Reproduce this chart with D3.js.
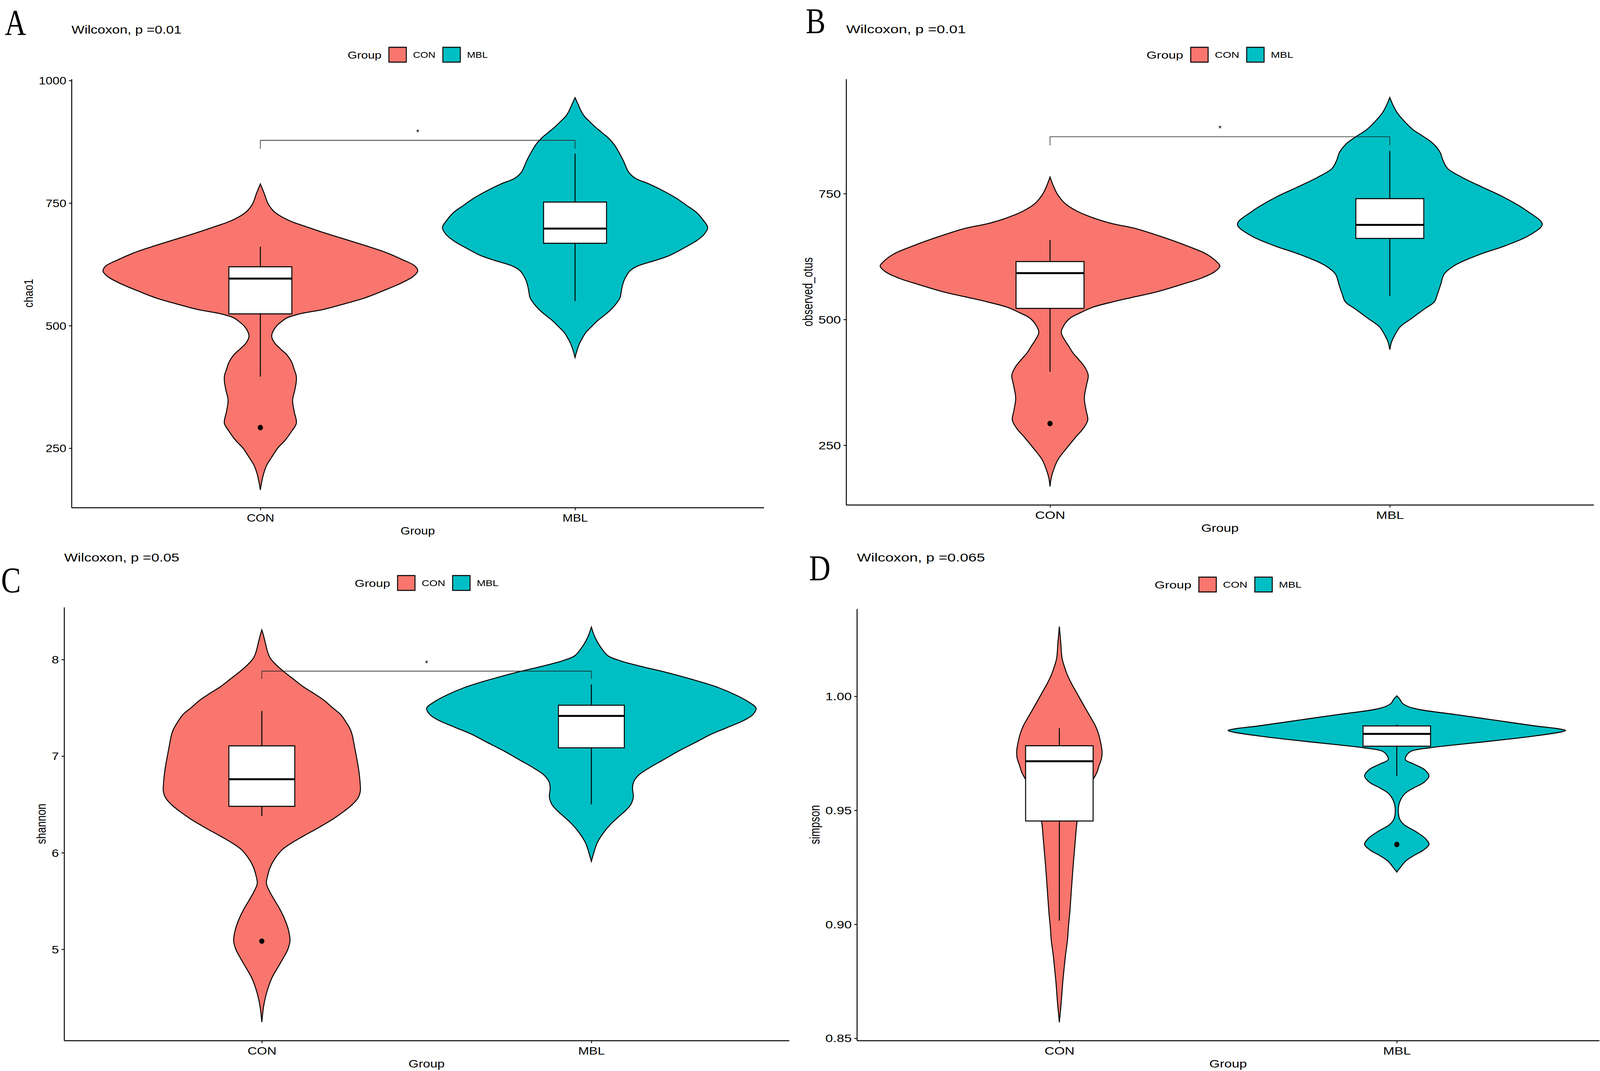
<!DOCTYPE html>
<html>
<head>
<meta charset="utf-8">
<script src="https://cdn.jsdelivr.net/npm/d3@7"></script>
<style>
  html, body { margin: 0; padding: 0; background: #fff; overflow: hidden; }
  svg { display: block; }
</style>
</head>
<body>
<div id="chart-area"></div>
<script>
'use strict';

// ---- data ----
const groups = ['CON', 'MBL'];
const panelTags = ['A', 'B', 'C', 'D'];
const yTitles = ['chao1', 'observed_otus', 'shannon', 'simpson'];
const testLabels = ['Wilcoxon, p =0.01', 'Wilcoxon, p =0.01', 'Wilcoxon, p =0.05', 'Wilcoxon, p =0.065'];

const yTicks = [[250, 500, 750, 1000], [250, 500, 750], [5, 6, 7, 8], [0.85, 0.90, 0.95, 1.00]];
const yDomains = [[128.9, 1003.2], [131.6, 977.9], [4.055, 8.542], [0.849, 1.0384]];

// box plot stats, [CON, MBL] per panel
const q1 = [[524, 668], [522, 661], [6.48, 7.086], [0.9453, 0.9781]];
const medians = [[596, 698], [592, 688], [6.761, 7.416], [0.9715, 0.9835]];
const q3 = [[620, 752], [615, 740], [7.106, 7.527], [0.9783, 0.987]];
const whiskerLo = [[396, 550], [396, 547], [6.379, 6.501], [0.9016, 0.9651]];
const whiskerHi = [[661, 851], [658, 835], [7.468, 7.743], [0.986, 0.9876]];
const outliers = [[[292], []], [[293], []], [[5.084], []], [[], [0.935]]];

// significance brackets
const signif = ['*', '*', '*', null];
const bracketY = [878, 863, 7.88, null];
const bracketTip = [861, 846, 7.80, null];
const starY = [898, 883, 7.98, null];

// violin outlines: [value, half width relative to widest violin of the panel]
const violinA = [
  [[789,0],[771,0.023],[748,0.05],[735,0.08],[725,0.12],[712,0.2],[702,0.29],[690,0.4],[679,0.51],[664,0.66],
   [649,0.8],[635,0.9],[621,0.985],[611,1],[600,0.97],[586,0.89],[571,0.78],[556,0.66],[545,0.54],[533,0.4],
   [524,0.25],[516,0.17],[507,0.13],[498,0.1],[488,0.08],[478,0.072],[465,0.09],[452,0.13],[440,0.17],[425,0.2],
   [411,0.215],[398,0.228],[388,0.229],[370,0.22],[348,0.205],[325,0.215],[301,0.229],[285,0.2],[266,0.157],
   [250,0.11],[231,0.071],[215,0.04],[197,0.02],[180,0.008],[165,0]],
  [[965,0],[951,0.02],[940,0.035],[928,0.057],[917,0.09],[905,0.129],[894,0.17],[882,0.214],[870,0.247],[858,0.271],
   [847,0.29],[835,0.309],[823,0.325],[812,0.343],[800,0.386],[789,0.47],[775,0.56],[760,0.643],[745,0.71],[731,0.771],
   [715,0.815],[700,0.843],[686,0.82],[673,0.771],[658,0.69],[643,0.6],[632,0.5],[621,0.394],[612,0.35],[603,0.329],
   [591,0.31],[580,0.3],[568,0.293],[557,0.286],[545,0.262],[533,0.229],[521,0.186],[510,0.143],[498,0.105],
   [487,0.071],[475,0.047],[464,0.029],[450,0.013],[435,0]]
];
const violinB = [
  [[783,0],[765,0.02],[748,0.045],[730,0.09],[715,0.16],[700,0.27],[690,0.37],[681,0.5],[664,0.66],[647,0.8],
   [630,0.92],[615,0.98],[606,1],[595,0.97],[582,0.89],[569,0.77],[555,0.63],[545,0.5],[535,0.37],[524,0.25],
   [513,0.177],[503,0.12],[490,0.085],[474,0.066],[460,0.085],[447,0.11],[434,0.134],[420,0.17],[405,0.205],
   [389,0.225],[370,0.215],[344,0.202],[320,0.212],[300,0.222],[283,0.195],[266,0.151],[245,0.1],[221,0.046],
   [200,0.02],[185,0.007],[168,0]],
  [[941,0],[925,0.02],[911,0.043],[894,0.085],[877,0.137],[863,0.2],[849,0.256],[832,0.296],[816,0.313],[800,0.34],
   [782,0.427],[762,0.55],[743,0.67],[715,0.81],[689,0.897],[667,0.82],[647,0.684],[628,0.52],[608,0.385],
   [590,0.32],[569,0.299],[550,0.28],[535,0.262],[520,0.2],[502,0.128],[485,0.06],[468,0.028],[455,0.01],[440,0]]
];
const violinC = [
  [[8.307,0],[8.25,0.01],[8.16,0.023],[8.08,0.035],[8.015,0.051],[7.94,0.09],[7.87,0.137],[7.80,0.19],[7.72,0.25],
   [7.65,0.315],[7.576,0.379],[7.50,0.43],[7.43,0.479],[7.35,0.512],[7.28,0.536],[7.21,0.55],[7.14,0.558],
   [7.05,0.568],[6.96,0.578],[6.87,0.587],[6.79,0.593],[6.71,0.597],[6.64,0.598],[6.57,0.585],[6.50,0.55],
   [6.43,0.5],[6.35,0.433],[6.26,0.345],[6.17,0.25],[6.10,0.18],[6.03,0.123],[5.94,0.08],[5.85,0.051],
   [5.76,0.035],[5.68,0.028],[5.59,0.05],[5.50,0.08],[5.42,0.108],[5.33,0.134],[5.21,0.16],[5.09,0.171],
   [5.00,0.158],[4.92,0.134],[4.82,0.1],[4.71,0.063],[4.61,0.04],[4.51,0.023],[4.40,0.01],[4.246,0]],
  [[8.336,0],[8.26,0.015],[8.19,0.034],[8.12,0.06],[8.04,0.1],[7.99,0.17],[7.93,0.3],[7.86,0.47],[7.78,0.64],
   [7.71,0.77],[7.63,0.88],[7.56,0.955],[7.495,1],[7.43,0.98],[7.37,0.926],[7.30,0.83],[7.226,0.726],[7.14,0.63],
   [7.05,0.527],[6.96,0.435],[6.875,0.348],[6.80,0.285],[6.73,0.256],[6.66,0.25],[6.58,0.255],[6.50,0.24],
   [6.44,0.21],[6.38,0.171],[6.30,0.12],[6.20,0.071],[6.10,0.035],[6.00,0.015],[5.91,0]]
];
const violinD = [
  [[1.0306,0],[1.0229,0.009],[1.0167,0.016],[1.0130,0.03],[1.0093,0.048],[1.0056,0.072],[1.0019,0.1],
   [0.9982,0.128],[0.9944,0.157],[0.9907,0.186],[0.987,0.214],[0.9833,0.233],[0.9796,0.245],[0.9759,0.253],
   [0.9728,0.25],[0.9697,0.236],[0.9665,0.222],[0.9635,0.2],[0.959,0.17],[0.9548,0.142],[0.950,0.12],
   [0.945,0.105],[0.9363,0.094],[0.9239,0.08],[0.9115,0.068],[0.9053,0.062],[0.899,0.054],[0.893,0.048],
   [0.8868,0.037],[0.8805,0.028],[0.8744,0.02],[0.8657,0.011],[0.857,0]],
  [[1.0002,0],[0.9988,0.017],[0.9969,0.034],[0.9954,0.071],[0.9942,0.134],[0.992,0.348],[0.9895,0.584],
   [0.987,0.82],[0.9858,0.954],[0.985,1],[0.9843,0.969],[0.9827,0.826],[0.9808,0.613],[0.979,0.385],
   [0.9774,0.194],[0.9759,0.085],[0.974,0.057],[0.9722,0.051],[0.9703,0.1],[0.9678,0.165],[0.9651,0.191],
   [0.9623,0.162],[0.9598,0.1],[0.9573,0.048],[0.9536,0.017],[0.9499,0.009],[0.9462,0.017],[0.9437,0.043],
   [0.9406,0.114],[0.9375,0.171],[0.935,0.191],[0.9325,0.157],[0.9301,0.1],[0.9276,0.051],[0.9251,0.023],
   [0.9229,0]]
];
const violins = [violinA, violinB, violinC, violinD];

// ---- layout ----
const W = 4317, H = 2741;
const SANS = '"Liberation Sans", Arial, Helvetica, sans-serif';
const SERIF = '"Liberation Serif", "Times New Roman", serif';
const tickFormats = ['d', 'd', 'd', '.2f'];

const frames = [
    { l: 193, t: 202, r: 2061, b: 1299, sx: 1.24, titleY: 86, tag: [13, 89] },
    { l: 2283, t: 202, r: 4300, b: 1292, sx: 1.35, titleY: 85, tag: [2174, 85] },
    { l: 173, t: 1554, r: 2129, b: 2663, sx: 1.3, titleY: 1437, tag: [3, 1516] },
    { l: 2312, t: 1558, r: 4315, b: 2663, sx: 1.35, titleY: 1437, tag: [2183, 1485] }
];

let colours = d3.scaleOrdinal()
    .domain(groups)
    .range(['#F8766D', '#00BFC4']);

// drawn in 4317x2741 units, stretched to fill whatever the window really is
let svg = d3.select('#chart-area').append('svg')
    .attr('viewBox', `0 0 ${W} ${H}`)
    .attr('preserveAspectRatio', 'none')
    .style('width', '100vw')
    .style('height', '100vh');

svg.append('rect')
    .attr('width', W)
    .attr('height', H)
    .attr('fill', '#fff');

// the figure's text is a little wider than the fonts, so stretch it horizontally
function label(parent, x, y, str, size, sx, anchor, family, rotate) {
    return parent.append('text')
        .attr('transform', `translate(${x},${y}) scale(${sx},1)` + (rotate ? ' rotate(-90)' : ''))
        .attr('font-size', size)
        .attr('font-family', family || SANS)
        .attr('text-anchor', anchor || 'start')
        .attr('fill', '#000')
        .text(str);
}

function drawPanel(i) {
    const f = frames[i];
    const g = svg.append('g');

    let x = d3.scalePoint()
        .domain(groups)
        .range([f.l, f.r])
        .padding(0.6);

    let y = d3.scaleLinear()
        .domain(yDomains[i])
        .range([f.b, f.t]);

    const step = x.step();
    const half = step * 0.5;
    const boxHalf = step * 0.1;

    // violins
    groups.forEach((grp, j) => {
        const cx = x(grp);
        let area = d3.area()
            .curve(d3.curveCatmullRom.alpha(0.5))
            .y(d => y(d[0]))
            .x0(d => cx - d[1] * half)
            .x1(d => cx + d[1] * half);
        g.append('path')
            .datum(violins[i][j])
            .attr('d', area)
            .attr('fill', colours(grp))
            .attr('stroke', '#000')
            .attr('stroke-width', 2.6);
    });

    // box plots
    groups.forEach((grp, j) => {
        const cx = x(grp);
        g.append('line')
            .attr('x1', cx).attr('x2', cx)
            .attr('y1', y(whiskerHi[i][j])).attr('y2', y(q3[i][j]))
            .attr('stroke', '#000').attr('stroke-width', 2.6);
        g.append('line')
            .attr('x1', cx).attr('x2', cx)
            .attr('y1', y(q1[i][j])).attr('y2', y(whiskerLo[i][j]))
            .attr('stroke', '#000').attr('stroke-width', 2.6);
        g.append('rect')
            .attr('x', cx - boxHalf)
            .attr('y', y(q3[i][j]))
            .attr('width', boxHalf * 2)
            .attr('height', y(q1[i][j]) - y(q3[i][j]))
            .attr('fill', '#fff')
            .attr('stroke', '#000')
            .attr('stroke-width', 2.6);
        g.append('line')
            .attr('x1', cx - boxHalf).attr('x2', cx + boxHalf)
            .attr('y1', y(medians[i][j])).attr('y2', y(medians[i][j]))
            .attr('stroke', '#000').attr('stroke-width', 5);
        g.selectAll(null)
            .data(outliers[i][j])
            .enter()
            .append('circle')
                .attr('cx', cx)
                .attr('cy', d => y(d))
                .attr('r', 7)
                .attr('fill', '#000');
    });

    // significance bracket
    if (signif[i]) {
        const x1 = x(groups[0]), x2 = x(groups[1]);
        g.append('path')
            .attr('d', `M${x1},${y(bracketTip[i])}V${y(bracketY[i])}H${x2}V${y(bracketTip[i])}`)
            .attr('fill', 'none')
            .attr('stroke', '#222')
            .attr('stroke-width', 1.6);
        label(g, (x1 + x2) / 2, y(starY[i]) + 12, signif[i], 22, 1, 'middle');
    }

    // axes
    let yAxis = d3.axisLeft(y)
        .tickValues(yTicks[i])
        .tickFormat(d3.format(tickFormats[i]))
        .tickSizeInner(7)
        .tickSizeOuter(0);
    let ya = g.append('g')
        .attr('transform', `translate(${f.l},0)`)
        .call(yAxis);
    ya.select('.domain').attr('stroke-width', 2.6);
    ya.selectAll('.tick line').attr('stroke-width', 2.2);
    ya.selectAll('.tick text')
        .attr('font-size', 27)
        .attr('font-family', SANS)
        .attr('fill', '#000')
        .attr('x', -14 / f.sx)
        .attr('dy', '0.36em')
        .attr('transform', `scale(${f.sx},1)`);

    let xAxis = d3.axisBottom(x)
        .tickSizeInner(7)
        .tickSizeOuter(0);
    let xa = g.append('g')
        .attr('transform', `translate(0,${f.b})`)
        .call(xAxis);
    xa.select('.domain').attr('stroke-width', 2.6);
    xa.selectAll('.tick line').attr('stroke-width', 2.2);
    xa.selectAll('.tick text')
        .attr('font-size', 27)
        .attr('font-family', SANS)
        .attr('fill', '#000')
        .attr('y', 36)
        .attr('dy', 0)
        .attr('transform', `scale(${f.sx},1)`);

    // axis titles
    label(g, (f.l + f.r) / 2, f.b + 69, 'Group', 27, f.sx, 'middle');
    let maxW = 0;
    ya.selectAll('.tick text').each(function () {
        maxW = Math.max(maxW, this.getComputedTextLength() * f.sx);
    });
    const yTitleX = f.l - 14 - maxW - 28 + 12;
    label(g, yTitleX, (f.t + f.b) / 2, yTitles[i], 27, f.sx, 'middle', SANS, true);

    // plot title and panel tag
    label(g, f.l, f.titleY, testLabels[i], 30, f.sx, 'start');
    label(g, f.tag[0], f.tag[1], panelTags[i], 94, 0.85, 'start', SERIF);

    // legend, centred over the panel
    const keyW = 47, keyH = 38;
    const ly = f.t - 62;
    let lg = g.append('g');
    let t = label(lg, 0, ly + 9.5, 'Group', 26.5, f.sx, 'start');
    let cur = t.node().getComputedTextLength() * f.sx + 20;
    groups.forEach((grp) => {
        lg.append('rect')
            .attr('x', cur)
            .attr('y', ly - keyH / 2)
            .attr('width', keyW)
            .attr('height', keyH)
            .attr('fill', colours(grp))
            .attr('stroke', '#000')
            .attr('stroke-width', 2.6);
        cur += keyW + 18;
        let lt = label(lg, cur, ly + 8, grp, 22, f.sx, 'start');
        cur += lt.node().getComputedTextLength() * f.sx + 20;
    });
    cur -= 20;
    lg.attr('transform', `translate(${(f.l + f.r) / 2 - cur / 2},0)`);
}

for (let i = 0; i < 4; i++) {
    drawPanel(i);
}
</script>
</body>
</html>
